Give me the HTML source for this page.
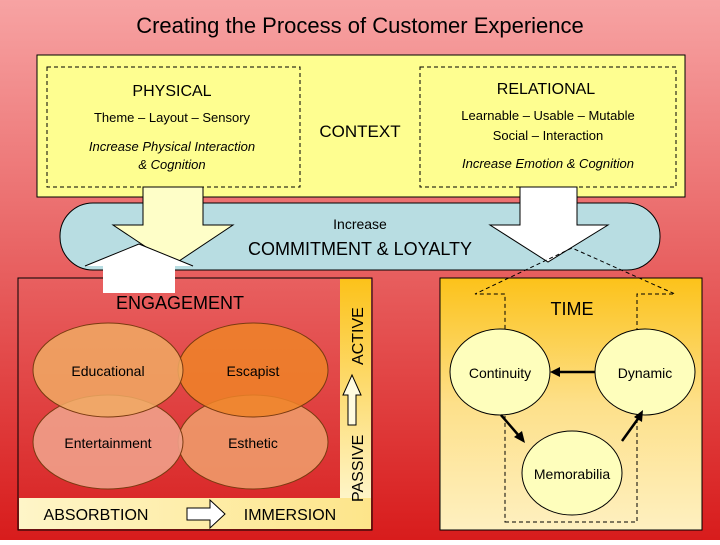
<!DOCTYPE html>
<html><head><style>body{margin:0}svg text{font-family:"Liberation Sans",sans-serif}</style></head><body>
<svg width="720" height="540" viewBox="0 0 720 540" xmlns="http://www.w3.org/2000/svg">
<defs>
<linearGradient id="bg" x1="0" y1="0" x2="0" y2="1"><stop offset="0" stop-color="#f7a3a3"/><stop offset="1" stop-color="#d81c1c"/></linearGradient>
<linearGradient id="lb" x1="0" y1="0" x2="0" y2="1"><stop offset="0" stop-color="#e86060"/><stop offset="1" stop-color="#d82222"/></linearGradient>
<linearGradient id="rb" x1="0" y1="0" x2="0" y2="1"><stop offset="0" stop-color="#fcc21a"/><stop offset="0.5" stop-color="#fde08a"/><stop offset="1" stop-color="#fef0c0"/></linearGradient>
<linearGradient id="ys" x1="0" y1="0" x2="0" y2="1"><stop offset="0" stop-color="#fcc21a"/><stop offset="1" stop-color="#fef5c8"/></linearGradient>
<linearGradient id="yh" x1="0" y1="0" x2="1" y2="0"><stop offset="0" stop-color="#fef5c8"/><stop offset="1" stop-color="#fde58a"/></linearGradient>
</defs>
<rect width="720" height="540" fill="url(#bg)"/>
<text x="360" y="33" font-size="22" text-anchor="middle">Creating the Process of Customer Experience</text>
<rect x="37" y="55" width="648" height="142" fill="#fefe90" stroke="#000"/>
<rect x="47" y="67" width="253" height="120" fill="none" stroke="#000" stroke-dasharray="4,3"/>
<rect x="420" y="67" width="256" height="120" fill="none" stroke="#000" stroke-dasharray="4,3"/>
<text x="172" y="96" font-size="16" text-anchor="middle">PHYSICAL</text>
<text x="172" y="122" font-size="13" text-anchor="middle">Theme – Layout – Sensory</text>
<text x="172" y="151" font-size="13" font-style="italic" text-anchor="middle">Increase Physical Interaction</text>
<text x="172" y="169" font-size="13" font-style="italic" text-anchor="middle">&amp; Cognition</text>
<text x="546" y="94" font-size="16" text-anchor="middle">RELATIONAL</text>
<text x="548" y="120" font-size="13" text-anchor="middle">Learnable – Usable – Mutable</text>
<text x="548" y="140" font-size="13" text-anchor="middle">Social – Interaction</text>
<text x="548" y="168" font-size="13" font-style="italic" text-anchor="middle">Increase Emotion &amp; Cognition</text>
<text x="360" y="137" font-size="17" text-anchor="middle">CONTEXT</text>
<rect x="60" y="203" width="600" height="67" rx="33" fill="#b8dde2" stroke="#000"/>
<polygon points="143,187 203,187 203,225 233,225 173,265 113,225 143,225" fill="#fefec8" stroke="#000"/>
<polygon points="520,187 577,187 577,225 608,225 548,262 490,225 520,225" fill="#fff" stroke="#000"/>
<text x="360" y="229" font-size="14" text-anchor="middle">Increase</text>
<text x="360" y="255" font-size="18" text-anchor="middle">COMMITMENT &amp; LOYALTY</text>
<rect x="18" y="278" width="354" height="252" fill="url(#lb)" stroke="#000"/>
<rect x="340" y="279" width="31" height="220" fill="url(#ys)"/>
<rect x="19" y="498" width="352" height="31" fill="url(#yh)"/>
<polygon points="85,266 139,244 193,266 175,266 175,293 103,293 103,266" fill="#fff"/>
<line x1="85" y1="266" x2="139" y2="244" stroke="#000"/><line x1="193" y1="266" x2="139" y2="244" stroke="#000"/>
<text x="180" y="309" font-size="18" text-anchor="middle">ENGAGEMENT</text>
<g stroke="#7a3a10" stroke-width="1">
<ellipse cx="253" cy="442" rx="75" ry="47" fill="#ee9a6a" fill-opacity="0.9"/>
<ellipse cx="108" cy="442" rx="75" ry="47" fill="#f0a08a" fill-opacity="0.9"/>
<ellipse cx="253" cy="370" rx="75" ry="47" fill="#ee8428" fill-opacity="0.85"/>
<ellipse cx="108" cy="370" rx="75" ry="47" fill="#f0aa64" fill-opacity="0.85"/>
</g>
<text x="108" y="376" font-size="14" text-anchor="middle">Educational</text>
<text x="253" y="376" font-size="14" text-anchor="middle">Escapist</text>
<text x="108" y="448" font-size="14" text-anchor="middle">Entertainment</text>
<text x="253" y="448" font-size="14" text-anchor="middle">Esthetic</text>
<text transform="translate(363,365) rotate(-90)" font-size="16">ACTIVE</text>
<text transform="translate(363,502) rotate(-90)" font-size="16">PASSIVE</text>
<polygon points="343,395 352,375 361,395 356,395 356,425 348,425 348,395" fill="#fffbe0" stroke="#000"/>
<text x="96" y="520" font-size="16" text-anchor="middle">ABSORBTION</text>
<text x="290" y="520" font-size="16" text-anchor="middle">IMMERSION</text>
<polygon points="187,508 210,508 210,500 225,514 210,528 210,520 187,520" fill="#fff" stroke="#000"/>
<rect x="440" y="278" width="262" height="252" fill="url(#rb)" stroke="#000"/>
<polygon points="505,522 637,522 637,294 675,294 572,248 475,294 505,294" fill="none" stroke="#000" stroke-dasharray="4,3"/>
<text x="572" y="315" font-size="18" text-anchor="middle">TIME</text>
<g fill="#fefebc" stroke="#000">
<ellipse cx="500" cy="372" rx="50" ry="43"/>
<ellipse cx="645" cy="372" rx="50" ry="43"/>
<ellipse cx="572" cy="473" rx="50" ry="42"/>
</g>
<text x="500" y="378" font-size="14" text-anchor="middle">Continuity</text>
<text x="645" y="378" font-size="14" text-anchor="middle">Dynamic</text>
<text x="572" y="479" font-size="14" text-anchor="middle">Memorabilia</text>
<g stroke="#000" stroke-width="2.5">
<line x1="595" y1="372" x2="558" y2="372"/>
<line x1="501" y1="415" x2="520" y2="437"/>
<line x1="622" y1="441" x2="640" y2="416"/>
</g>
<polygon points="550,372 560,367 560,377"/>
<polygon points="525,443 514,437 522,431"/>
<polygon points="643,410 642,422 634,417"/>
</svg>
</body></html>
